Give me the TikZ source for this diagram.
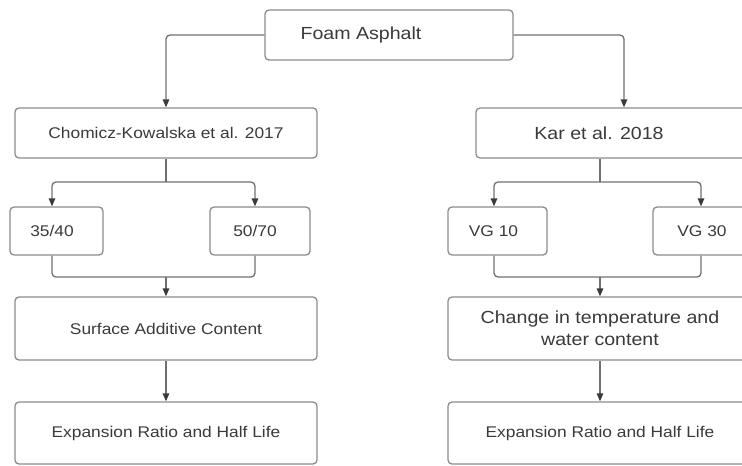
\documentclass[tikz,border=0pt]{standalone}
\usepackage{fontspec}
\setmainfont{Liberation Sans}[FakeStretch=1.12]
\usetikzlibrary{arrows.meta}
\definecolor{boxline}{HTML}{8C8C8C}
\definecolor{conn}{HTML}{707070}
\definecolor{txt}{HTML}{3A3A3A}
\begin{document}
\begin{tikzpicture}[x=1pt,y=-1pt,
  box/.style={draw=boxline,line width=1.3pt,rounded corners=4pt,fill=white,text=txt,inner sep=0pt,align=center,font=\fontsize{15.5}{21}\selectfont},
  big/.style={font=\fontsize{17.5}{22}\selectfont},
  arr/.style={draw=conn,line width=1.3pt,rounded corners=4pt,-{Triangle[length=8pt,width=6.5pt,color=txt,fill=txt]}},
  ln/.style={draw=conn,line width=1.3pt,rounded corners=4pt}]
\useasboundingbox (0,0) rectangle (742,466);
\clip (0,0) rectangle (742,466);
% top
\node[box,big,minimum width=248pt,minimum height=50pt] (foam) at (389,35) {Foam Asphalt\hspace{56pt}};
% left branch
\node[box,minimum width=302pt,minimum height=50pt] (chom) at (166,133) {Chomicz-Kowalska et al. 2017};
\node[box,minimum width=93pt,minimum height=48pt] (a) at (56.5,231) {35/40\hspace{9pt}};
\node[box,minimum width=100pt,minimum height=48pt] (b) at (260,231) {50/70\hspace{10pt}};
\node[box,minimum width=302pt,minimum height=63pt] (surf) at (166,328.5) {Surface Additive Content};
\node[box,minimum width=302pt,minimum height=62pt] (expl) at (166,433) {Expansion Ratio and Half Life};
% right branch
\node[box,big,minimum width=296pt,minimum height=50pt] (kar) at (624,133) {Kar et al. 2018\hspace{50pt}};
\node[box,minimum width=99pt,minimum height=48pt] (c) at (497.5,231) {VG 10\hspace{8pt}};
\node[box,minimum width=98pt,minimum height=48pt] (d) at (702,231) {VG 30};
\node[box,big,minimum width=304pt,minimum height=63pt] (chg) at (600,328.5) {Change in temperature and\\water content};
\node[box,minimum width=304pt,minimum height=62pt] (expr) at (600,433) {Expansion Ratio and Half Life};
% helper coordinates
\coordinate (an) at ([xshift=-4.5pt]a.north);
\coordinate (as) at ([xshift=-4.5pt]a.south);
\coordinate (bn) at ([xshift=-5pt]b.north);
\coordinate (bs) at ([xshift=-5pt]b.south);
\coordinate (cn) at ([xshift=-3.5pt]c.north);
\coordinate (cs) at ([xshift=-3.5pt]c.south);
\coordinate (dn) at ([xshift=-1pt]d.north);
\coordinate (ds) at ([xshift=-1pt]d.south);
\coordinate (lsplit) at (166,182);
\coordinate (lmerge) at (166,277);
\coordinate (rsplit) at (600,182);
\coordinate (rmerge) at (600,277);
% connectors
\draw[arr] (foam.west) -| (chom.north);
\draw[arr] (foam.east) -| (kar.north);
\draw[ln] (chom.south) -- (lsplit);
\draw[arr] (lsplit) -| (an);
\draw[arr] (lsplit) -| (bn);
\draw[ln] (as) |- (lmerge) -| (bs);
\draw[arr] (lmerge) -- (surf.north);
\draw[arr] (surf.south) -- (expl.north);
\draw[ln] (kar.south -| rsplit) -- (rsplit);
\draw[arr] (rsplit) -| (cn);
\draw[arr] (rsplit) -| (dn);
\draw[ln] (cs) |- (rmerge) -| (ds);
\draw[arr] (rmerge) -- (chg.north);
\draw[arr] (chg.south) -- (expr.north);
\end{tikzpicture}
\end{document}
